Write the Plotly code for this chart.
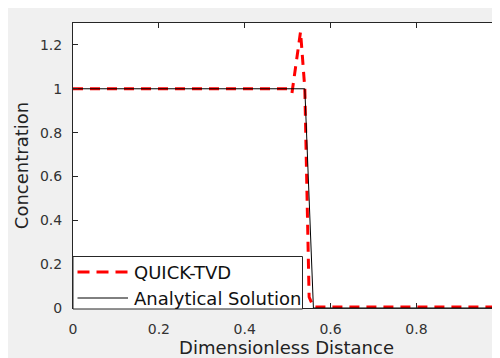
import plotly.graph_objects as go

# Data
x_quick = [0.0, 0.10, 0.20, 0.30, 0.40, 0.50, 0.51, 0.52, 0.53, 0.54, 0.55, 0.56, 0.60, 0.70, 0.80, 0.90, 1.0]
y_quick = [1.0, 1.0, 1.0, 1.0, 1.0, 1.0, 0.98, 1.12, 1.26, 1.0, 0.05, 0.005, 0.005, 0.005, 0.005, 0.005, 0.005]
x_exact = [0.0, 0.54, 0.56, 1.0]
y_exact = [1.0, 1.0, 0.0, 0.0]
xticks = [0, 0.2, 0.4, 0.6, 0.8, 1]
yticks = [0, 0.2, 0.4, 0.6, 0.8, 1, 1.2]
names = ["QUICK-TVD", "Analytical Solution"]

FONT = "DejaVu Sans"
AX = "#262626"
RED = "#ff0000"

# figure geometry (px)
W, H = 492, 350
ML, MT, MB = 65, 15, 50
PW, PH = W - ML, H - MT - MB

def px(xp):  # pixel offset from plot left -> paper
    return xp / PW

def py(yp):  # pixel offset above plot bottom -> paper
    return yp / PH

fig = go.Figure()
fig.add_trace(go.Scatter(x=x_quick, y=y_quick, mode="lines", name=names[0], showlegend=False,
                         line=dict(color=RED, width=3, dash="10px,7px")))
fig.add_trace(go.Scatter(x=x_exact, y=y_exact, mode="lines", name=names[1], showlegend=False,
                         line=dict(color="#000000", width=1)))

# manual legend box
shapes = [
    dict(type="rect", xref="paper", yref="paper", x0=0, x1=px(229.5), y0=py(-1), y1=py(51.5),
         fillcolor="white", line=dict(color=AX, width=1)),
    dict(type="line", xref="paper", yref="paper", x0=px(4.5), x1=px(55.5), y0=py(36), y1=py(36),
         line=dict(color=RED, width=3, dash="12px,7px")),
    dict(type="line", xref="paper", yref="paper", x0=px(4.5), x1=px(55), y0=py(10), y1=py(10),
         line=dict(color="#000000", width=1)),
]
annotations = [
    dict(xref="paper", yref="paper", x=px(59), y=py(36), text=names[0], showarrow=False,
         xanchor="left", yanchor="middle", font=dict(family=FONT, size=18, color="#111111")),
    dict(xref="paper", yref="paper", x=px(59), y=py(10), text=names[1], showarrow=False,
         xanchor="left", yanchor="middle", font=dict(family=FONT, size=18, color="#111111")),
]

fig.update_layout(
    width=W, height=H,
    margin=dict(l=ML, r=0, t=MT, b=MB),
    paper_bgcolor="#f0f0f0", plot_bgcolor="white",
    font=dict(family=FONT, color="#333333", size=14),
    showlegend=False,
    shapes=shapes,
    annotations=annotations,
)
fig.update_xaxes(range=[0, PW / 429.3], tickvals=xticks, ticktext=["0", "0.2", "0.4", "0.6", "0.8", "1"],
                 showline=True, linecolor=AX, linewidth=1, mirror="ticks", automargin=False,
                 ticks="inside", ticklen=5, tickcolor=AX, showgrid=False, zeroline=False,
                 tickfont=dict(size=14, color="#333333"), ticklabelstandoff=8,
                 title=dict(text="Dimensionless Distance", font=dict(size=18, color="#222222"), standoff=9))
fig.update_yaxes(range=[0, 1.3], tickvals=yticks, ticktext=["0", "0.2", "0.4", "0.6", "0.8", "1", "1.2"],
                 showline=True, linecolor=AX, linewidth=1, mirror="ticks", automargin=False,
                 ticks="inside", ticklen=5, tickcolor=AX, showgrid=False, zeroline=False,
                 tickfont=dict(size=14, color="#333333"), ticklabelstandoff=7,
                 title=dict(text="Concentration", font=dict(size=18, color="#222222"), standoff=6))

fig.write_html("out.html")
